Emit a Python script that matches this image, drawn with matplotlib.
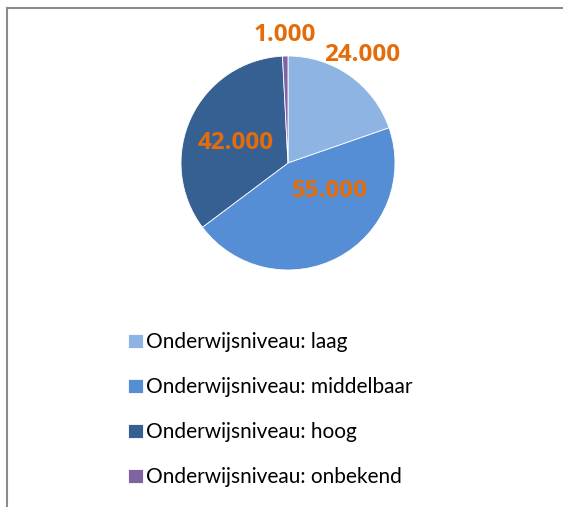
import matplotlib
matplotlib.use('Agg')
import numpy as np
import matplotlib.pyplot as plt
from matplotlib.lines import Line2D

# data
categories = ['Onderwijsniveau: laag', 'Onderwijsniveau: middelbaar',
              'Onderwijsniveau: hoog', 'Onderwijsniveau: onbekend']
values = [24000, 55000, 42000, 1000]
colors = ['#8EB4E3', '#558ED5', '#376092', '#8064A2']

# label placement (radius as fraction, angle nudge in degrees)
label_radius = [1.22, 0.47, 0.52, 1.20]
label_nudge = [1, 28, 4, 0]

plt.rcParams['font.family'] = ['Lato', 'DejaVu Sans']

W, H = 563, 507
fig = plt.figure(figsize=(W / 100, H / 100), dpi=100)

# pie axes: center (288,163) px, radius 107 px
cx, cy, r = 288, 163, 107
ax = fig.add_axes([(cx - r) / W, 1 - (cy + r) / H, 2 * r / W, 2 * r / H])
wedges, _ = ax.pie(values, colors=colors, startangle=90, counterclock=False,
                   radius=1, wedgeprops=dict(edgecolor='white', linewidth=0.6))
ax.set_xlim(-1, 1)
ax.set_ylim(-1, 1)
ax.set_aspect('equal')
ax.axis('off')

for w, v, rad, nud in zip(wedges, values, label_radius, label_nudge):
    mid = np.deg2rad((w.theta1 + w.theta2) / 2 + nud)
    txt = f'{v:,}'.replace(',', '.')
    ax.text(rad * np.cos(mid), rad * np.sin(mid), txt, ha='center', va='center',
            color='#E46C0A', fontsize=17.5, fontweight='bold',
            family=['Open Sans', 'DejaVu Sans'], clip_on=False)

# legend
fig.legend(wedges, categories, loc='upper left', bbox_to_anchor=(120 / W, 1 - 324 / H),
           frameon=False, fontsize=15, handlelength=0.72, handleheight=0.72,
           handletextpad=0.12, labelspacing=1.2, borderaxespad=0)

# chart border (top and left visible)
fig.add_artist(Line2D([6.5 / W, 1.0], [1 - 7.5 / H, 1 - 7.5 / H], color='#8C8C8C', lw=1.5))
fig.add_artist(Line2D([6.5 / W, 6.5 / W], [0, 1 - 7.5 / H], color='#8C8C8C', lw=1.5))

fig.savefig('out.png', dpi=100)
